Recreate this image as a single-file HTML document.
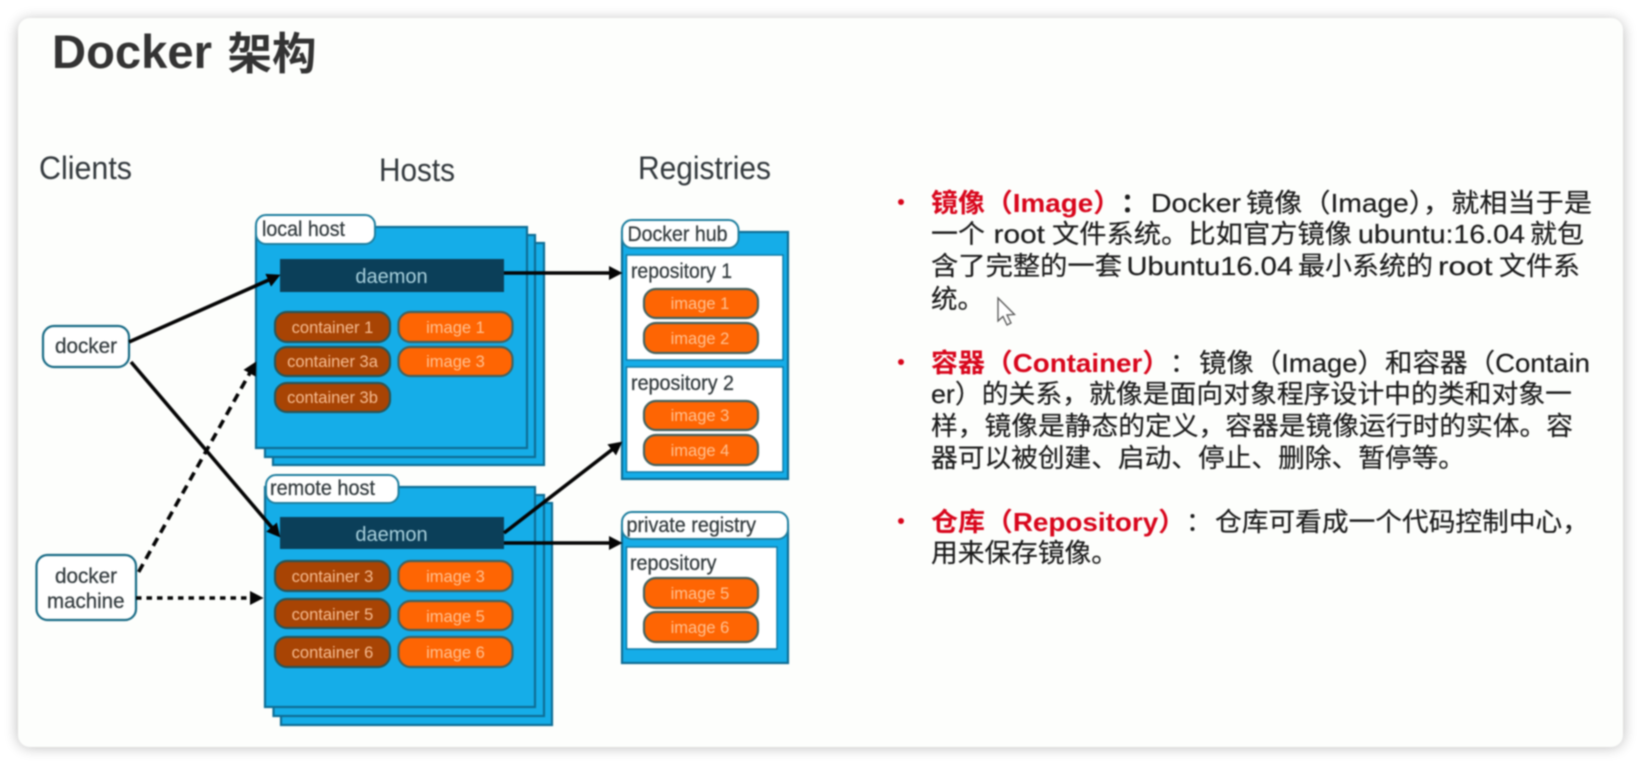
<!DOCTYPE html>
<html lang="zh">
<head>
<meta charset="utf-8">
<title>Docker 架构</title>
<style>
html,body{margin:0;padding:0;background:#fff;width:1641px;height:765px;overflow:hidden}
svg{position:absolute;left:0;top:0;filter:blur(0.75px)}
text{font-family:"Liberation Sans","Noto Sans CJK SC",sans-serif}
.h{font-size:32px;fill:#33393d}
.l{font-size:21px;fill:#333b3e;stroke:#333b3e;stroke-width:.25}
.d{font-size:20px;fill:#a8d0dc;text-anchor:middle}
.c{font-size:16.5px;fill:#f6bb90;text-anchor:middle}
.i{font-size:16.5px;fill:#ffc090;text-anchor:middle}
.bx{fill:#15ade8;stroke:#0f6e96;stroke-width:2.2}
.tab{fill:#fff;stroke:#1f7f9f;stroke-width:2}
.cl{fill:#fff;stroke:#1a6c86;stroke-width:2.2}
.pc{fill:#a84404;stroke:#2b5557;stroke-width:2.2}
.pi{fill:#fe6503;stroke:#44625f;stroke-width:2.2}
.dm{fill:#0b3f59}
.rp{fill:#fff;stroke:#0f7ca8;stroke-width:1.5}
.t{font-size:26px;fill:#1c1c1c;stroke:#1c1c1c;stroke-width:.2}
.r{font-size:26px;fill:#d8061c;font-weight:bold}
.a{stroke:#050505;stroke-width:3.6;fill:none}
</style>
</head>
<body>
<svg width="1641" height="765" viewBox="0 0 1641 765" xmlns="http://www.w3.org/2000/svg">
<defs>
<filter id="s" x="-5%" y="-10%" width="110%" height="120%"><feGaussianBlur stdDeviation="7"/></filter>
<marker id="m" markerUnits="userSpaceOnUse" markerWidth="16" markerHeight="16" refX="10" refY="7.5" orient="auto"><path d="M0,0.5 L13.5,7.5 L0,14.5 Z" fill="#050505"/></marker>
</defs>
<rect x="18" y="20" width="1605" height="727" rx="12" fill="#000" opacity=".28" filter="url(#s)"/>
<rect x="18" y="18" width="1605" height="729" rx="12" fill="#fdfefc"/>

<text x="52" y="68" font-size="47" font-weight="bold" fill="#333" textLength="160" lengthAdjust="spacingAndGlyphs">Docker</text>
<text x="227.5" y="69" font-size="44" font-weight="bold" fill="#333" textLength="89" lengthAdjust="spacingAndGlyphs">架构</text>

<text class="h" x="39" y="179" textLength="93" lengthAdjust="spacingAndGlyphs">Clients</text>
<text class="h" x="379" y="181" textLength="76" lengthAdjust="spacingAndGlyphs">Hosts</text>
<text class="h" x="638" y="179" textLength="133" lengthAdjust="spacingAndGlyphs">Registries</text>

<!-- local host -->
<rect class="bx" x="273" y="243" width="271" height="222"/>
<rect class="bx" x="265" y="235" width="270" height="222"/>
<rect class="bx" x="256" y="227" width="271" height="221"/>
<rect class="tab" x="256" y="215" width="119" height="29" rx="10"/>
<text class="l" x="262" y="236" textLength="83" lengthAdjust="spacingAndGlyphs">local host</text>
<rect class="dm" x="280" y="259" width="224" height="33"/>
<text class="d" x="391.5" y="283">daemon</text>
<rect class="pc" x="275" y="312" width="115" height="30" rx="12"/><text class="c" x="332.5" y="333">container 1</text>
<rect class="pi" x="398.5" y="312" width="114" height="30" rx="12"/><text class="i" x="455.5" y="333">image 1</text>
<rect class="pc" x="275" y="347" width="115" height="29" rx="12"/><text class="c" x="332.5" y="367">container 3a</text>
<rect class="pi" x="398.5" y="347" width="114" height="29" rx="12"/><text class="i" x="455.5" y="367">image 3</text>
<rect class="pc" x="275" y="383" width="115" height="29" rx="12"/><text class="c" x="332.5" y="403">container 3b</text>

<!-- remote host -->
<rect class="bx" x="281" y="503" width="271" height="222"/>
<rect class="bx" x="273.5" y="495" width="270.5" height="221"/>
<rect class="bx" x="265" y="487" width="270" height="220"/>
<rect class="tab" x="266" y="475" width="132.5" height="28" rx="10"/>
<text class="l" x="270" y="495" textLength="105" lengthAdjust="spacingAndGlyphs">remote host</text>
<rect class="dm" x="280" y="517" width="224" height="32"/>
<text class="d" x="391.5" y="541">daemon</text>
<rect class="pc" x="275" y="561" width="115" height="30" rx="12"/><text class="c" x="332.5" y="582">container 3</text>
<rect class="pi" x="398.5" y="561" width="114" height="30" rx="12"/><text class="i" x="455.5" y="582">image 3</text>
<rect class="pc" x="275" y="599" width="115" height="29" rx="12"/><text class="c" x="332.5" y="620">container 5</text>
<rect class="pi" x="398.5" y="601" width="114" height="29" rx="12"/><text class="i" x="455.5" y="622">image 5</text>
<rect class="pc" x="275" y="637" width="115" height="30" rx="12"/><text class="c" x="332.5" y="658">container 6</text>
<rect class="pi" x="398.5" y="637" width="114" height="30" rx="12"/><text class="i" x="455.5" y="658">image 6</text>

<!-- Docker hub -->
<rect class="bx" x="622" y="232" width="166" height="247"/>
<rect class="tab" x="622" y="220" width="116.5" height="28" rx="10"/>
<text class="l" x="627.5" y="241" textLength="100" lengthAdjust="spacingAndGlyphs">Docker hub</text>
<rect class="rp" x="626.5" y="255" width="156.5" height="105"/>
<text class="l" x="631" y="278" textLength="101" lengthAdjust="spacingAndGlyphs">repository 1</text>
<rect class="pi" x="644" y="289" width="114" height="29" rx="12"/><text class="i" x="700" y="309">image 1</text>
<rect class="pi" x="644" y="323" width="114" height="30" rx="12"/><text class="i" x="700" y="344">image 2</text>
<rect class="rp" x="626.5" y="367" width="156.5" height="105"/>
<text class="l" x="631" y="390" textLength="103" lengthAdjust="spacingAndGlyphs">repository 2</text>
<rect class="pi" x="644" y="401" width="114" height="29" rx="12"/><text class="i" x="700" y="421">image 3</text>
<rect class="pi" x="644" y="435" width="114" height="30" rx="12"/><text class="i" x="700" y="456">image 4</text>

<!-- private registry -->
<rect class="bx" x="622" y="525" width="166" height="138"/>
<rect class="tab" x="622" y="512" width="166" height="27" rx="10"/>
<text class="l" x="626.5" y="532" textLength="129.5" lengthAdjust="spacingAndGlyphs">private registry</text>
<rect class="rp" x="626.5" y="547" width="150.5" height="102"/>
<text class="l" x="630" y="570" textLength="86.5" lengthAdjust="spacingAndGlyphs">repository</text>
<rect class="pi" x="644" y="578" width="114" height="30" rx="12"/><text class="i" x="700" y="599">image 5</text>
<rect class="pi" x="644" y="612" width="114" height="30" rx="12"/><text class="i" x="700" y="633">image 6</text>

<!-- clients -->
<rect class="cl" x="43" y="326" width="86" height="41" rx="11"/>
<text class="l" x="55" y="353" textLength="62" lengthAdjust="spacingAndGlyphs">docker</text>
<rect class="cl" x="36.5" y="555" width="99.5" height="65" rx="11"/>
<text class="l" x="55" y="583" textLength="62" lengthAdjust="spacingAndGlyphs">docker</text>
<text class="l" x="47" y="608" textLength="77.5" lengthAdjust="spacingAndGlyphs">machine</text>

<!-- arrows -->
<line class="a" x1="129" y1="342" x2="277.3" y2="276.2" marker-end="url(#m)"/>
<line class="a" x1="131" y1="362" x2="278" y2="534.7" marker-end="url(#m)"/>
<line class="a" x1="504" y1="273" x2="619" y2="273" marker-end="url(#m)"/>
<line class="a" x1="504" y1="533" x2="619.6" y2="443.8" marker-end="url(#m)"/>
<line class="a" x1="504" y1="543" x2="619" y2="543" marker-end="url(#m)"/>
<line class="a" x1="138.6" y1="572" x2="254.5" y2="364.6" stroke-dasharray="9 6" marker-end="url(#m)"/>
<line class="a" x1="136" y1="598" x2="260" y2="598" stroke-width="4.6" stroke-dasharray="5.5 5" marker-end="url(#m)"/>

<!-- right text -->
<circle cx="901" cy="202" r="3" fill="#d8061c"/>
<circle cx="901" cy="362" r="3" fill="#d8061c"/>
<circle cx="901" cy="521" r="3" fill="#d8061c"/>

<text class="r" x="931" y="212" textLength="54" lengthAdjust="spacingAndGlyphs">镜像</text>
<text class="r" x="985" y="212" textLength="136" lengthAdjust="spacingAndGlyphs">（Image）</text>
<text class="t" x="1121" y="212" font-weight="bold">：</text>
<text class="t" x="1151" y="212" textLength="90" lengthAdjust="spacingAndGlyphs">Docker</text>
<text class="t" x="1246" y="212" textLength="346" lengthAdjust="spacingAndGlyphs">镜像（Image），就相当于是</text>

<text class="t" x="931" y="243" textLength="54" lengthAdjust="spacingAndGlyphs">一个</text>
<text class="t" x="993.5" y="243" textLength="51.5" lengthAdjust="spacingAndGlyphs">root</text>
<text class="t" x="1052" y="243" textLength="300" lengthAdjust="spacingAndGlyphs">文件系统。比如官方镜像</text>
<text class="t" x="1358" y="243" textLength="167" lengthAdjust="spacingAndGlyphs">ubuntu:16.04</text>
<text class="t" x="1530" y="243" textLength="54" lengthAdjust="spacingAndGlyphs">就包</text>

<text class="t" x="931" y="275" textLength="191" lengthAdjust="spacingAndGlyphs">含了完整的一套</text>
<text class="t" x="1126.5" y="275" textLength="166.5" lengthAdjust="spacingAndGlyphs">Ubuntu16.04</text>
<text class="t" x="1298" y="275" textLength="135" lengthAdjust="spacingAndGlyphs">最小系统的</text>
<text class="t" x="1438" y="275" textLength="54.5" lengthAdjust="spacingAndGlyphs">root</text>
<text class="t" x="1499" y="275" textLength="81" lengthAdjust="spacingAndGlyphs">文件系</text>

<text class="t" x="931" y="308" textLength="53" lengthAdjust="spacingAndGlyphs">统。</text>

<text class="r" x="931" y="372" textLength="54" lengthAdjust="spacingAndGlyphs">容器</text>
<text class="r" x="985" y="372" textLength="185" lengthAdjust="spacingAndGlyphs">（Container）</text>
<text class="t" x="1170" y="372">：</text>
<text class="t" x="1199" y="372" textLength="186" lengthAdjust="spacingAndGlyphs">镜像（Image）</text>
<text class="t" x="1385" y="372" textLength="205" lengthAdjust="spacingAndGlyphs">和容器（Contain</text>
<text class="t" x="931" y="403" textLength="641" lengthAdjust="spacingAndGlyphs">er）的关系，就像是面向对象程序设计中的类和对象一</text>
<text class="t" x="931" y="435" textLength="642" lengthAdjust="spacingAndGlyphs">样，镜像是静态的定义，容器是镜像运行时的实体。容</text>
<text class="t" x="931" y="467" textLength="534" lengthAdjust="spacingAndGlyphs">器可以被创建、启动、停止、删除、暂停等。</text>

<text class="r" x="931" y="531" textLength="54" lengthAdjust="spacingAndGlyphs">仓库</text>
<text class="r" x="985" y="531" textLength="201" lengthAdjust="spacingAndGlyphs">（Repository）</text>
<text class="t" x="1186" y="531">：</text>
<text class="t" x="1215" y="531" textLength="374" lengthAdjust="spacingAndGlyphs">仓库可看成一个代码控制中心，</text>
<text class="t" x="931" y="562" textLength="187" lengthAdjust="spacingAndGlyphs">用来保存镜像。</text>

<!-- cursor -->
<path d="M998,298 L998,321 L1003,316.5 L1007,325 L1011,323 L1007,315 L1014.5,314.5 Z" fill="#fff" stroke="#555" stroke-width="1.3"/>
</svg>
</body>
</html>
